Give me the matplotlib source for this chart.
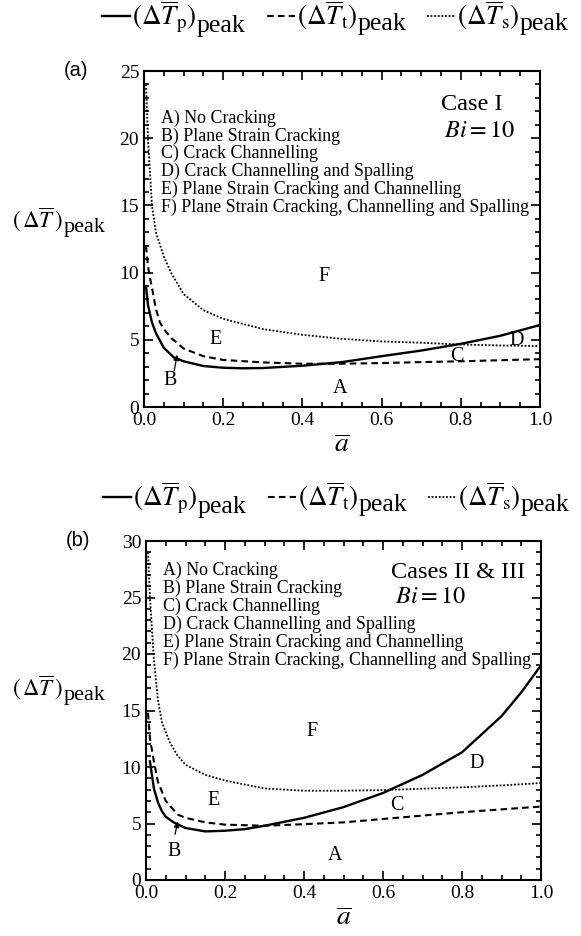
import matplotlib
matplotlib.use("Agg")
import matplotlib.pyplot as plt
from matplotlib.ticker import MultipleLocator
from matplotlib.transforms import blended_transform_factory

plt.rcParams['font.family'] = ['Liberation Serif', 'DejaVu Serif']
plt.rcParams['mathtext.fontset'] = 'stix'

# ---- data ----
# panel (a): Case I, Bi = 10
a_p_a = [0.005, 0.01, 0.02, 0.03, 0.05, 0.075, 0.1, 0.15, 0.2, 0.25, 0.3, 0.4, 0.5, 0.6, 0.7, 0.8, 0.9, 1.0]
tp_a = [9.0, 7.6, 6.3, 5.5, 4.4, 3.7, 3.4, 3.05, 2.92, 2.88, 2.9, 3.07, 3.34, 3.78, 4.2, 4.7, 5.3, 6.1]
a_t_a = [0.005, 0.01, 0.015, 0.02, 0.03, 0.04, 0.05, 0.07, 0.1, 0.15, 0.2, 0.3, 0.4, 0.5, 0.6, 0.7, 0.8, 0.9, 1.0]
tt_a = [12.0, 10.5, 9.6, 8.9, 7.3, 6.3, 5.8, 5.1, 4.35, 3.78, 3.5, 3.32, 3.22, 3.22, 3.27, 3.34, 3.4, 3.48, 3.56]
a_s_a = [0.005, 0.01, 0.02, 0.03, 0.05, 0.07, 0.1, 0.15, 0.2, 0.3, 0.4, 0.5, 0.6, 0.7, 0.8, 0.9, 1.0]
ts_a = [24.0, 20.0, 15.0, 13.0, 11.2, 9.9, 8.4, 7.2, 6.56, 5.8, 5.37, 5.07, 4.88, 4.78, 4.65, 4.58, 4.53]

# panel (b): Cases II & III, Bi = 10
a_p_b = [0.01, 0.02, 0.03, 0.04, 0.05, 0.07, 0.1, 0.15, 0.2, 0.25, 0.3, 0.4, 0.5, 0.6, 0.7, 0.8, 0.9, 0.95, 1.0]
tp_b = [10.5, 8.1, 6.9, 6.1, 5.6, 5.1, 4.6, 4.3, 4.36, 4.5, 4.8, 5.5, 6.45, 7.7, 9.3, 11.3, 14.5, 16.6, 19.0]
a_t_b = [0.005, 0.01, 0.02, 0.03, 0.05, 0.08, 0.1, 0.15, 0.2, 0.3, 0.4, 0.5, 0.6, 0.7, 0.8, 0.9, 1.0]
tt_b = [14.8, 12.5, 10.5, 8.7, 7.0, 5.8, 5.5, 5.1, 4.9, 4.8, 4.94, 5.1, 5.4, 5.7, 6.0, 6.25, 6.5]
a_s_b = [0.005, 0.01, 0.02, 0.03, 0.04, 0.06, 0.08, 0.1, 0.15, 0.2, 0.3, 0.4, 0.5, 0.6, 0.7, 0.8, 0.9, 1.0]
ts_b = [29.0, 25.0, 19.5, 16.0, 14.0, 12.2, 11.0, 10.2, 9.3, 8.8, 8.1, 7.9, 7.9, 7.96, 8.08, 8.2, 8.37, 8.58]

regime_list = ["A) No Cracking",
               "B) Plane Strain Cracking",
               "C) Crack Channelling",
               "D) Crack Channelling and Spalling",
               "E) Plane Strain Cracking and Channelling",
               "F) Plane Strain Cracking, Channelling and Spalling"]

series_labels = [r'$(\Delta\overline{T}_{\rm p})$',
                 r'$(\Delta\overline{T}_{\rm t})$',
                 r'$(\Delta\overline{T}_{\rm s})$']

panels = [
    dict(tag='(a)', ymax=25, case='Case I', curves=[(a_p_a, tp_a), (a_t_a, tt_a), (a_s_a, ts_a)],
         letters={'A': (0.495, 1.4), 'B': (0.065, 2.0), 'C': (0.79, 3.75), 'D': (0.94, 4.95),
                  'E': (0.18, 5.0), 'F': (0.455, 9.7)},
         arrow=((0.075, 2.5), (0.085, 4.1)),
         list_top=21.5, list_step=1.325, case_xy=(0.749, 22.5), bi_xy=(0.757, 20.5), ylab_y=13.9,
         leg_xy=(-0.106, 1.161),
         rect=[144 / 581, 1 - 407 / 936, 396 / 581, 336 / 936]),
    dict(tag='(b)', ymax=30, case='Cases II & III', curves=[(a_p_b, tp_b), (a_t_b, tt_b), (a_s_b, ts_b)],
         letters={'A': (0.478, 2.2), 'B': (0.071, 2.5), 'C': (0.634, 6.6), 'D': (0.837, 10.3),
                  'E': (0.17, 7.0), 'F': (0.42, 13.1)},
         arrow=((0.072, 3.8), (0.082, 5.4)),
         list_top=27.43, list_step=1.59, case_xy=(0.62, 27.2), bi_xy=(0.63, 25.0), ylab_y=17.0,
         leg_xy=(-0.109, 1.127),
         rect=[146 / 581, 1 - 880 / 936, 395 / 581, 339 / 936]),
]

styles = [dict(color='black', lw=1.7, ls='-'),
          dict(color='black', lw=1.5, ls=(0, (3.2, 2.0))),
          dict(color='black', lw=1.3, ls=(0, (1.0, 1.0)))]

fig = plt.figure(figsize=(5.81, 9.36), dpi=100)

for p in panels:
    ax = fig.add_axes(p['rect'])
    lines = []
    for (xs, ys), st, lab in zip(p['curves'], styles, series_labels):
        ln, = ax.plot(xs, ys, label=lab, **st)
        lines.append(ln)

    ax.set_xlim(0, 1.0)
    ax.set_ylim(0, p['ymax'])
    ax.xaxis.set_major_locator(MultipleLocator(0.2))
    ax.xaxis.set_minor_locator(MultipleLocator(0.05))
    ax.yaxis.set_major_locator(MultipleLocator(5))
    ax.yaxis.set_minor_locator(MultipleLocator(1))
    ax.tick_params(which='both', direction='in', top=True, right=True, labelsize=14, width=1.2)
    ax.tick_params(which='major', length=6.5)
    ax.tick_params(which='minor', length=3.5)
    ax.set_xticklabels([f'{v:.1f}' for v in ax.get_xticks()])
    for s in ax.spines.values():
        s.set_linewidth(1.5)
    ax.set_xlabel(r'$\overline{a}$', fontsize=20, labelpad=3)

    # regime list, one line each
    for i, line in enumerate(regime_list):
        ax.text(0.043, p['list_top'] - i * p['list_step'], line, fontsize=12.9, va='center', ha='left')
    ax.text(p['case_xy'][0], p['case_xy'][1], p['case'], fontsize=17.5, ha='left', va='center')
    ax.text(p['bi_xy'][0], p['bi_xy'][1], r'$Bi = 10$', fontsize=17.5, ha='left', va='center')

    for k, (x, y) in p['letters'].items():
        ax.text(x, y, k, fontsize=14.5, ha='center', va='center')
    (x0, y0), (x1, y1) = p['arrow']
    ax.annotate('', xy=(x1, y1), xytext=(x0, y0),
                arrowprops=dict(arrowstyle='-|>', color='black', lw=0.9, mutation_scale=8))

    # y label: "(ΔT)" with a full-size, lowered "peak"
    tr = blended_transform_factory(fig.transFigure, ax.transData)
    main = ax.text(12 / 581, p['ylab_y'], r'$(\,\Delta\overline{T}\,)$', fontsize=16.5,
                   ha='left', va='center', transform=tr)
    ax.annotate('peak', xy=(1, 0), xycoords=main, xytext=(0.5, -2.0), textcoords='offset points',
                fontsize=16, ha='left', va='bottom')

    ax.text(-0.171, 1.0, p['tag'], fontsize=14.5, family='Liberation Sans', ha='center', va='center',
            transform=ax.transAxes)

    leg = ax.legend(handles=lines, loc='center left', bbox_to_anchor=p['leg_xy'], ncol=3, frameon=False,
                    fontsize=19.5, handlelength=1.05, handletextpad=0.05, columnspacing=2.6,
                    borderaxespad=0, borderpad=0)
    # full-size "peak" after each legend entry, drawn after the legend is placed
    for t in leg.get_texts():
        ax.annotate('peak', xy=(1, 0), xycoords=t, xytext=(0.3, -1.5), textcoords='offset points',
                    fontsize=18.5, ha='left', va='bottom', zorder=6, annotation_clip=False)

fig.savefig('out.png', dpi=100)
